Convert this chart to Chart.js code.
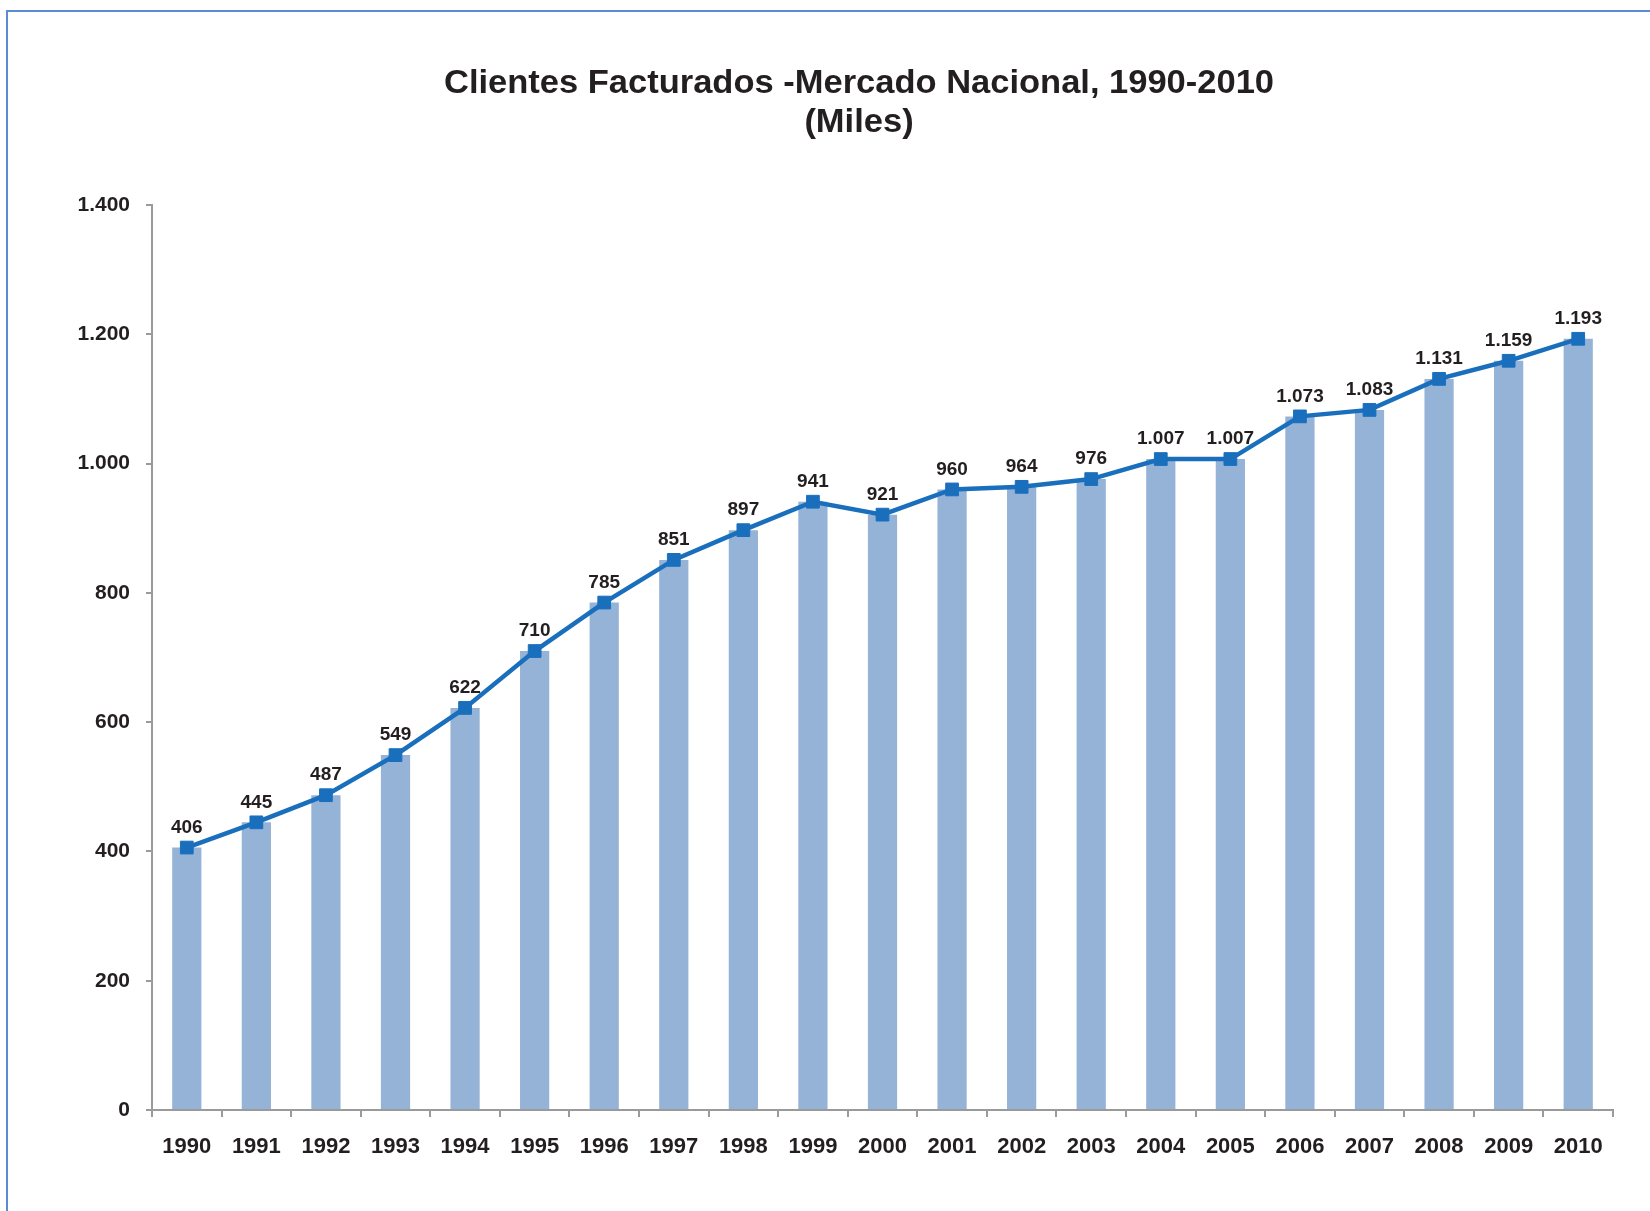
<!DOCTYPE html>
<html>
<head>
<meta charset="utf-8">
<script src="https://cdn.jsdelivr.net/npm/chart.js@4.4.1/dist/chart.umd.min.js"></script>
<style>
  html, body { margin: 0; padding: 0; background: #fff; }
  #wrap { position: relative; width: 1650px; height: 1211px; overflow: hidden; }
  #frame { position: absolute; left: 6px; top: 10px; right: 0; bottom: 0;
           border-left: 2px solid #5b8bd0; border-top: 2px solid #5b8bd0; }
  #chart { position: absolute; left: 0; top: 0; }
</style>
</head>
<body>
<div id="wrap">
  <div id="frame"></div>
  <canvas id="chart" width="1650" height="1211"></canvas>
</div>
<script>
// Clientes facturados (miles)
var years = ["1990","1991","1992","1993","1994","1995","1996","1997","1998","1999","2000",
             "2001","2002","2003","2004","2005","2006","2007","2008","2009","2010"];
var clientes = [406, 445, 487, 549, 622, 710, 785, 851, 897, 941, 921,
                960, 964, 976, 1007, 1007, 1073, 1083, 1131, 1159, 1193];
var titleLines = ["Clientes Facturados -Mercado Nacional, 1990-2010", "(Miles)"];

var textColor = '#231f20';
var axisColor = '#9a9a9a';
var fontFam = '"Liberation Sans", Arial, sans-serif';

function miles(v) {
    return String(v).replace(/\B(?=(\d{3})+(?!\d))/g, '.');
}

// titulo centrado como en el original, ancho ajustado
var titlePlugin = {
    id: 'tituloFijo',
    afterDraw: function (chart) {
        var ctx = chart.ctx;
        ctx.save();
        ctx.fillStyle = textColor;
        ctx.font = 'bold 34px ' + fontFam;
        ctx.textAlign = 'center';
        ctx.textBaseline = 'middle';
        var w = ctx.measureText(titleLines[0]).width;
        var sx = 830 / w;
        ctx.translate(859, 0);
        ctx.scale(sx, 1);
        ctx.fillText(titleLines[0], 0, 84);
        ctx.fillText(titleLines[1], 0, 123);
        ctx.restore();
    }
};

// etiquetas de valor sobre la linea
var labelPlugin = {
    id: 'etiquetas',
    afterDatasetsDraw: function (chart) {
        var ctx = chart.ctx;
        var meta = chart.getDatasetMeta(1);
        ctx.save();
        ctx.fillStyle = textColor;
        ctx.font = 'bold 19px ' + fontFam;
        ctx.textAlign = 'center';
        ctx.textBaseline = 'middle';
        meta.data.forEach(function (pt, i) {
            ctx.fillText(miles(clientes[i]), pt.x, pt.y - 20);
        });
        ctx.restore();
    }
};

var ctx = document.getElementById('chart').getContext('2d');
new Chart(ctx, {
    data: {
        labels: years,
        datasets: [
            {
                type: 'bar',
                data: clientes,
                backgroundColor: '#95b3d7',
                categoryPercentage: 1,
                barPercentage: 0.42,
                order: 2
            },
            {
                type: 'line',
                data: clientes,
                borderColor: '#1a6fbd',
                borderWidth: 4.5,
                backgroundColor: '#1a6fbd',
                pointStyle: 'rect',
                pointRadius: 9,
                pointBorderWidth: 1,
                pointBackgroundColor: '#1a6fbd',
                pointBorderColor: '#1a6fbd',
                tension: 0,
                order: 1
            }
        ]
    },
    options: {
        responsive: false,
        animation: false,
        devicePixelRatio: 1,
        layout: { padding: { top: 205, right: 37, left: 0, bottom: 0 } },
        plugins: {
            legend: { display: false },
            title: { display: false },
            tooltip: { enabled: false }
        },
        scales: {
            x: {
                offset: true,
                grid: { drawOnChartArea: false, drawTicks: true, tickLength: 7,
                        color: axisColor, lineWidth: 2, offset: true },
                border: { color: axisColor, width: 2 },
                ticks: { color: textColor, padding: 17,
                         font: { family: fontFam, size: 22, weight: 'bold' } },
                afterFit: function (scale) { scale.height = 101; }
            },
            y: {
                min: 0,
                max: 1400,
                grid: { drawOnChartArea: false, drawTicks: true, tickLength: 6,
                        color: axisColor, lineWidth: 2 },
                border: { color: axisColor, width: 2 },
                ticks: { stepSize: 200, color: textColor, padding: 16,
                         font: { family: fontFam, size: 21, weight: 'bold' },
                         callback: function (v) { return miles(v); } },
                afterFit: function (scale) { scale.width = 152; }
            }
        }
    },
    plugins: [titlePlugin, labelPlugin]
});
</script>
</body>
</html>
